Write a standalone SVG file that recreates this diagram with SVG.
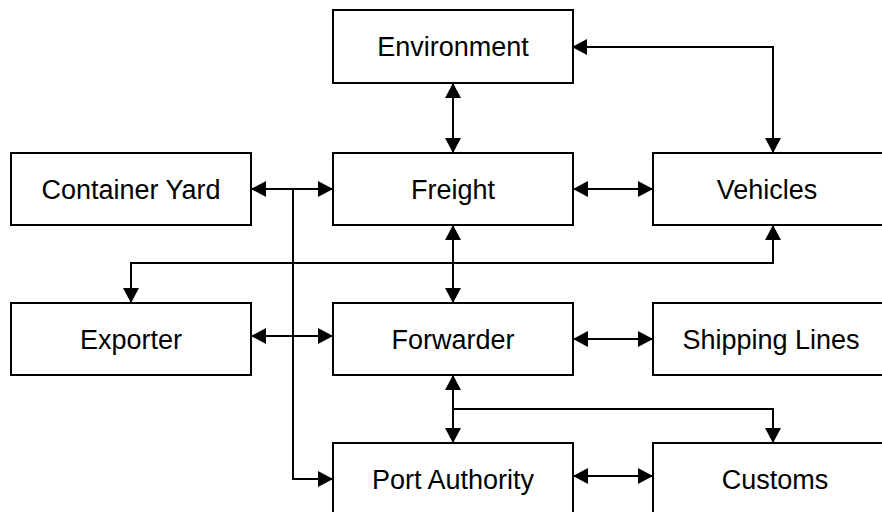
<svg xmlns="http://www.w3.org/2000/svg" width="882" height="512" viewBox="0 0 882 512">
<defs>
<style>
.box{fill:#fff;stroke:#000;stroke-width:2}
.lbl{font-family:"Liberation Sans",Arial,sans-serif;font-size:27px;fill:#000;text-anchor:middle}
.c{fill:none;stroke:#000;stroke-width:2}
.a2{marker-start:url(#ah);marker-end:url(#ah)}
.a1{marker-end:url(#ah)}
</style>
<marker id="ah" markerUnits="userSpaceOnUse" markerWidth="16" markerHeight="16" refX="15" refY="8" orient="auto-start-reverse" viewBox="0 0 16 16">
<path d="M0,0 L15,8 L0,16 z" fill="#000"/>
</marker>
</defs>
<rect width="882" height="512" fill="#fff"/>
<g id="environment"><rect class="box" x="333" y="10" width="240" height="73"/><text class="lbl" x="453" y="56">Environment</text></g>
<g id="container-yard"><rect class="box" x="11" y="153" width="240" height="72"/><text class="lbl" x="131" y="199">Container Yard</text></g>
<g id="freight"><rect class="box" x="333" y="153" width="240" height="72"/><text class="lbl" x="453" y="199">Freight</text></g>
<g id="vehicles"><rect class="box" x="653" y="153" width="240" height="72"/><text class="lbl" x="767" y="199">Vehicles</text></g>
<g id="exporter"><rect class="box" x="11" y="303" width="240" height="72"/><text class="lbl" x="131" y="349">Exporter</text></g>
<g id="forwarder"><rect class="box" x="333" y="303" width="240" height="72"/><text class="lbl" x="453" y="349">Forwarder</text></g>
<g id="shipping-lines"><rect class="box" x="653" y="303" width="240" height="72"/><text class="lbl" x="771" y="349">Shipping Lines</text></g>
<g id="port-authority"><rect class="box" x="333" y="443" width="240" height="72"/><text class="lbl" x="453" y="489">Port Authority</text></g>
<g id="customs"><rect class="box" x="653" y="443" width="240" height="72"/><text class="lbl" x="775" y="489">Customs</text></g>
<g id="connectors">
<path class="c a2" d="M453,83 V153"/>
<path class="c a2" d="M572,47 H773 V153"/>
<path class="c a2" d="M251,189 H333"/>
<path class="c a2" d="M573,189 H653"/>
<path class="c a1" d="M293,189 V479 H333"/>
<path class="c a2" d="M453,225 V303"/>
<path class="c a2" d="M131,303 V263 H773 V225"/>
<path class="c a2" d="M251,336 H333"/>
<path class="c a2" d="M573,339 H653"/>
<path class="c a2" d="M453,375 V443"/>
<path class="c a1" d="M453,409 H773 V443"/>
<path class="c a2" d="M573,476 H653"/>
</g>
</svg>
